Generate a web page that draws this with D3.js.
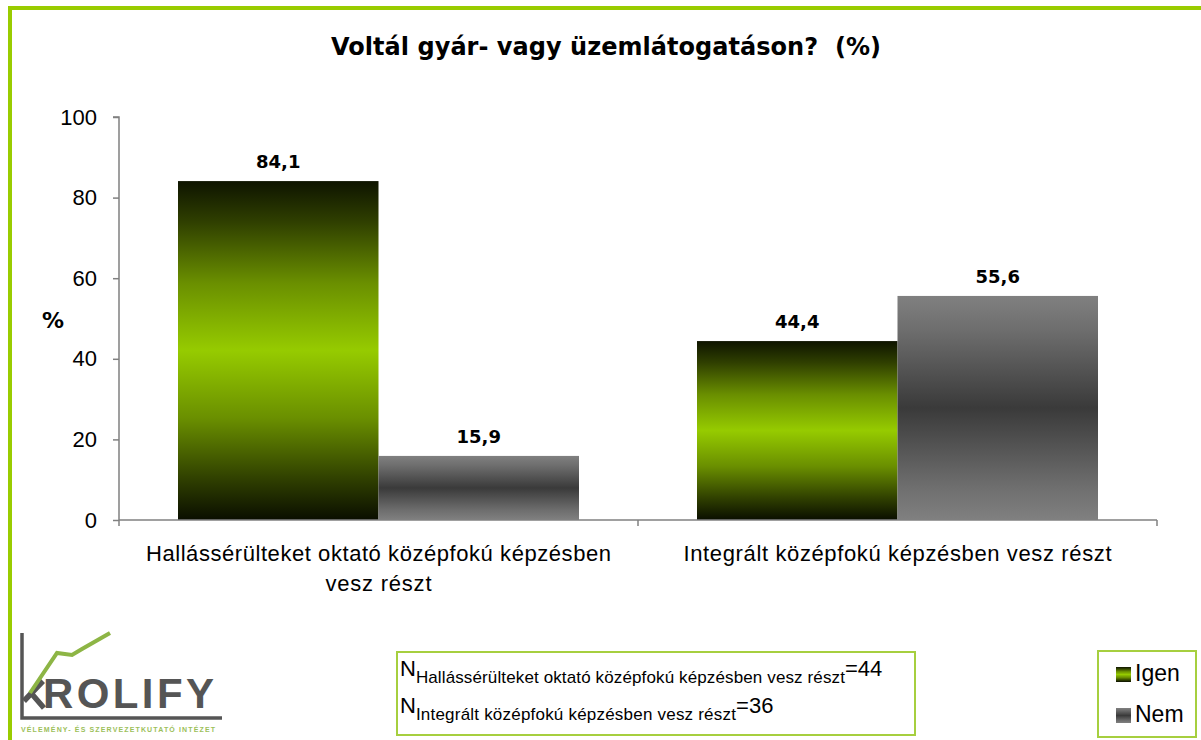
<!DOCTYPE html>
<html>
<head>
<meta charset="utf-8">
<style>
  body { margin: 0; background: #fff; }
  .chart svg { display: block; }
</style>
</head>
<body>
<div class="chart"></div>
<script src="https://cdn.jsdelivr.net/npm/d3@7"></script>
<script>
  // data
  const categories = ["Hallássérülteket oktató középfokú képzésben vesz részt",
                      "Integrált középfokú képzésben vesz részt"];
  const catLines = [["Hallássérülteket oktató középfokú képzésben", "vesz részt"],
                    ["Integrált középfokú képzésben vesz részt"]];
  const seriesNames = ["Igen", "Nem"];
  const igen = [84.1, 44.4];
  const nem = [15.9, 55.6];
  const yTicks = [0, 20, 40, 60, 80, 100];
  const nValues = [44, 36];

  const W = 1201, H = 740;
  const plot = {left: 119, right: 1157, top: 117, bottom: 520};
  const sans = "'Liberation Sans', Arial, sans-serif";
  const verd = "'DejaVu Sans', Verdana, sans-serif";

  const svg = d3.select('.chart').append('svg')
                .attr('width', W)
                .attr('height', H);

  const defs = svg.append('defs');
  function vGrad(id, stops){
    const g = defs.append('linearGradient')
                  .attr('id', id)
                  .attr('x1', 0).attr('y1', 0).attr('x2', 0).attr('y2', 1);
    stops.forEach(s => g.append('stop').attr('offset', s[0]).attr('stop-color', s[1]));
  }
  vGrad('gIgen', [[0, '#0e1400'], [0.12, '#2f3f00'], [0.3, '#6a8f00'], [0.5, '#96cb00'], [0.7, '#6a8f00'], [0.88, '#2f3f00'], [1, '#0a0e00']]);
  vGrad('gNem', [[0, '#808080'], [0.15, '#6e6e6e'], [0.5, '#3a3a3a'], [0.85, '#6e6e6e'], [1, '#808080']]);

  // frame
  svg.append('rect')
     .attr('x', 10).attr('y', 8)
     .attr('width', W + 20).attr('height', H + 20)
     .attr('fill', 'none')
     .attr('stroke', '#99cc00')
     .attr('stroke-width', 4);

  svg.append('text')
     .attr('x', 331).attr('y', 55)
     .attr('textLength', 550)
     .style('white-space', 'pre')
     .style('font-family', verd)
     .style('font-weight', 'bold')
     .style('font-size', '24px')
     .text('Voltál gyár- vagy üzemlátogatáson?  (%)');

  const x0 = d3.scaleBand()
               .domain(categories)
               .range([plot.left, plot.right]);
  const x1 = d3.scaleBand()
               .domain(seriesNames)
               .range([59, x0.bandwidth() - 59]);
  const y = d3.scaleLinear()
              .domain([0, 100])
              .range([plot.bottom, plot.top]);

  const yAxis = d3.axisLeft(y)
                  .tickValues(yTicks)
                  .tickSize(6)
                  .tickPadding(16);
  const yG = svg.append('g')
                .attr('transform', `translate(${plot.left},0)`)
                .call(yAxis);
  yG.selectAll('path, line').attr('stroke', '#808080').attr('stroke-width', 1.5);
  yG.select('.domain').attr('d', `M-6,${y(100)}H0V${y(0)}`);
  yG.selectAll('text')
    .style('font-family', sans)
    .style('font-size', '22px')
    .attr('fill', '#000');

  svg.append('text')
     .attr('x', 53).attr('y', 328)
     .attr('text-anchor', 'middle')
     .style('font-family', verd)
     .style('font-weight', 'bold')
     .style('font-size', '22px')
     .text('%');

  const fmt = d3.formatLocale({decimal: ',', thousands: ' ', grouping: [3], currency: ['', '']}).format('.1f');

  const rows = categories.map((c, i) => ({cat: c, vals: [{k: 'Igen', v: igen[i]}, {k: 'Nem', v: nem[i]}]}));

  const groups = svg.selectAll('g.cat')
                    .data(rows)
                    .join('g')
                    .attr('class', 'cat')
                    .attr('transform', d => `translate(${x0(d.cat)},0)`);

  groups.selectAll('rect')
        .data(d => d.vals)
        .join('rect')
        .attr('x', d => x1(d.k))
        .attr('y', d => y(d.v))
        .attr('width', x1.bandwidth())
        .attr('height', d => y(0) - y(d.v))
        .attr('fill', d => d.k === 'Igen' ? 'url(#gIgen)' : 'url(#gNem)');

  groups.selectAll('text.val')
        .data(d => d.vals)
        .join('text')
        .attr('class', 'val')
        .attr('x', d => x1(d.k) + x1.bandwidth() / 2)
        .attr('y', d => y(d.v) - 13)
        .attr('text-anchor', 'middle')
        .style('font-family', verd)
        .style('font-weight', 'bold')
        .style('font-size', '18px')
        .text(d => fmt(d.v));

  // x axis
  const xG = svg.append('g');
  xG.append('line')
    .attr('x1', plot.left).attr('x2', plot.right)
    .attr('y1', y(0)).attr('y2', y(0))
    .attr('stroke', '#808080').attr('stroke-width', 1.5);
  const bounds = categories.map(c => x0(c)).concat([x0(categories[1]) + x0.bandwidth()]);
  xG.selectAll('line.tick')
    .data(bounds)
    .join('line')
    .attr('class', 'tick')
    .attr('x1', d => d).attr('x2', d => d)
    .attr('y1', y(0)).attr('y2', y(0) + 6)
    .attr('stroke', '#808080').attr('stroke-width', 1.5);

  const catWidths = [[465, 106], [428]];
  categories.forEach((c, i) => {
    const t = svg.append('text')
                 .attr('text-anchor', 'middle')
                 .style('font-family', sans)
                 .style('font-size', '22px');
    catLines[i].forEach((ln, j) => {
      t.append('tspan')
       .attr('x', x0(c) + x0.bandwidth() / 2)
       .attr('y', 561 + j * 30)
       .attr('textLength', catWidths[i][j])
       .text(ln);
    });
  });

  // N box
  svg.append('rect')
     .attr('x', 397).attr('y', 652)
     .attr('width', 518).attr('height', 83)
     .attr('fill', 'none')
     .attr('stroke', '#a6cf3f').attr('stroke-width', 2);
  const subWidths = [429, 320];
  categories.forEach((c, i) => {
    const t = svg.append('text')
                 .attr('x', 400).attr('y', 676 + i * 37)
                 .style('font-family', sans)
                 .style('font-size', '22px');
    t.append('tspan').text('N');
    t.append('tspan').attr('dy', 7)
     .attr('textLength', subWidths[i])
     .style('font-size', '17px').text(c);
    t.append('tspan').attr('dy', -7).text('=' + nValues[i]);
  });

  // legend
  svg.append('rect')
     .attr('x', 1098).attr('y', 651)
     .attr('width', 98).attr('height', 86)
     .attr('fill', 'none')
     .attr('stroke', '#a6cf3f').attr('stroke-width', 2);
  const leg = svg.selectAll('g.leg')
                 .data(seriesNames)
                 .join('g')
                 .attr('class', 'leg')
                 .attr('transform', (d, i) => `translate(1116,${667 + i * 41})`);
  leg.append('rect')
     .attr('width', 15).attr('height', 15)
     .attr('fill', d => d === 'Igen' ? 'url(#gIgen)' : 'url(#gNem)');
  leg.append('text')
     .attr('x', 19).attr('y', 14)
     .style('font-family', sans)
     .style('font-size', '23px')
     .text(d => d);

  // logo
  const logo = svg.append('g');
  logo.append('path')
      .attr('d', 'M22,633 V718 H222')
      .attr('fill', 'none')
      .attr('stroke', '#555').attr('stroke-width', 3.5);
  logo.append('path')
      .attr('d', 'M24,701 L43,681 M31,693 L44,708')
      .attr('fill', 'none')
      .attr('stroke', '#555').attr('stroke-width', 5.5);
  logo.append('path')
      .attr('d', 'M30,693 L57,653 L72,655 L82,649 L110,633')
      .attr('fill', 'none')
      .attr('stroke', '#8db545').attr('stroke-width', 4);
  logo.append('text')
      .attr('x', 43).attr('y', 708)
      .attr('textLength', 171)
      .style('font-family', sans)
      .style('font-weight', 'bold')
      .style('font-size', '42px')
      .attr('fill', '#555')
      .text('ROLIFY');
  logo.append('text')
      .attr('x', 21).attr('y', 732)
      .attr('textLength', 194)
      .style('font-family', sans)
      .style('font-weight', 'bold')
      .style('font-size', '7px')
      .attr('fill', '#9cc05a')
      .text('VÉLEMÉNY- ÉS SZERVEZETKUTATÓ INTÉZET');
</script>
</body>
</html>
